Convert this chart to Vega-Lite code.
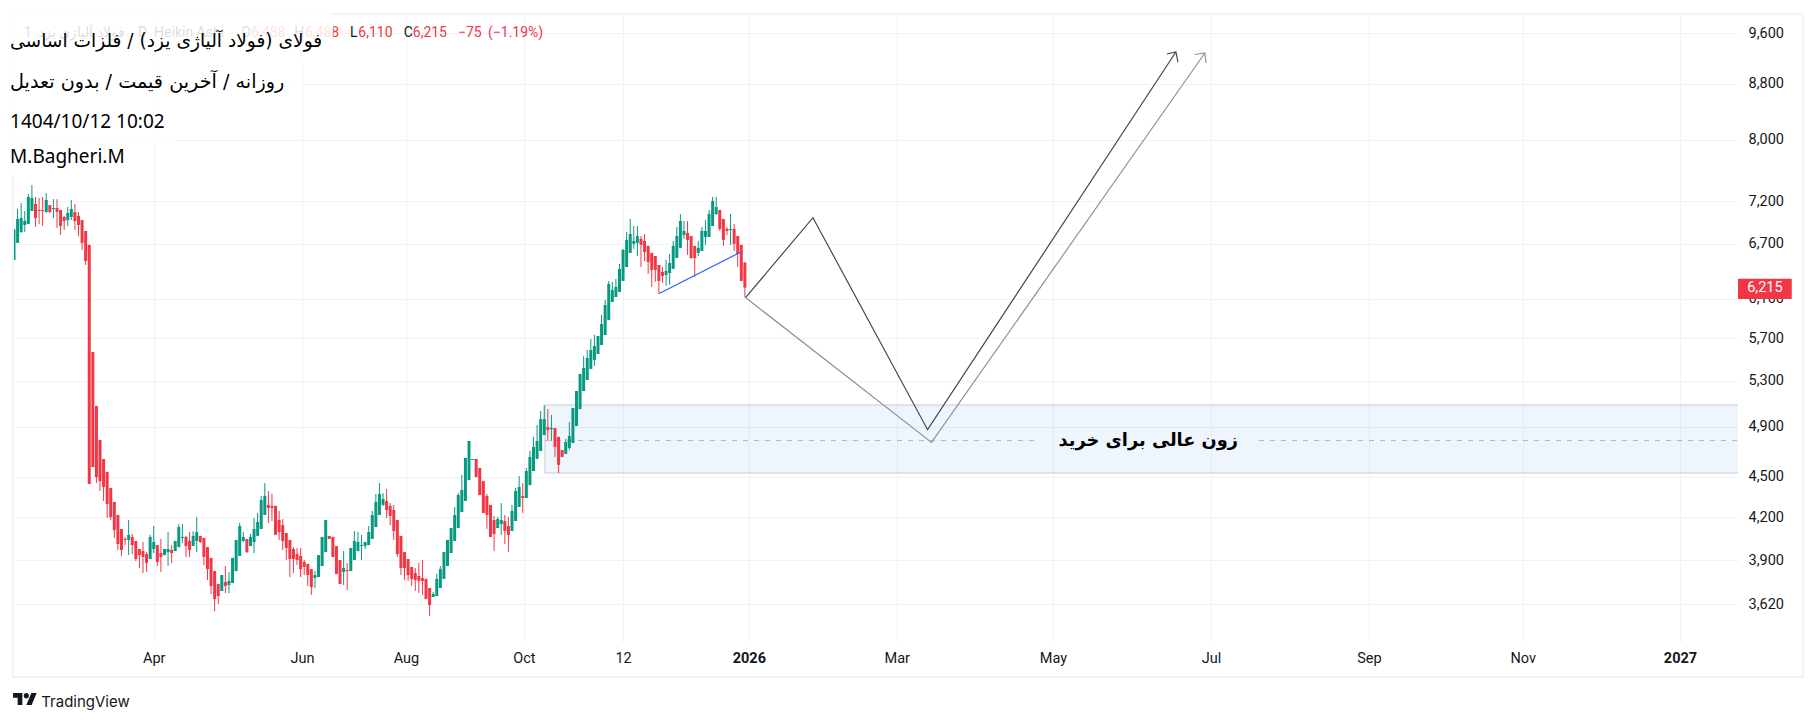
{
  "$schema": "https://vega.github.io/schema/vega-lite/v6.json",
  "width": 1725,
  "height": 628,
  "autosize": "none",
  "padding": {"left": 13, "top": 14, "right": 78, "bottom": 79},
  "background": "white",
  "view": {"stroke": null},
  "config": {"font": "Noto Sans"},
  "datasets": {
    "candles": [
      {"i":0,"o":6515,"h":6866,"l":6515,"c":6866},{"i":1,"o":6708,"h":7108,"l":6708,"c":6988},{"i":2,"o":6835,"h":7181,"l":6823,"c":7000},{"i":3,"o":6917,"h":7084,"l":6835,"c":6964},{"i":4,"o":6929,"h":7292,"l":6929,"c":7255},
      {"i":5,"o":7084,"h":7405,"l":7084,"c":7243},{"i":6,"o":7169,"h":7255,"l":6893,"c":7000},{"i":7,"o":7096,"h":7243,"l":6929,"c":7084},{"i":8,"o":7096,"h":7255,"l":6905,"c":7084},{"i":9,"o":7072,"h":7304,"l":7060,"c":7218},
      {"i":10,"o":7157,"h":7157,"l":7060,"c":7072},{"i":11,"o":7108,"h":7230,"l":7000,"c":7120},{"i":12,"o":7120,"h":7230,"l":6882,"c":7072},{"i":13,"o":7096,"h":7096,"l":6800,"c":6905},{"i":14,"o":7012,"h":7024,"l":6858,"c":6964},
      {"i":15,"o":6976,"h":7132,"l":6905,"c":7060},{"i":16,"o":7012,"h":7218,"l":6976,"c":7108},{"i":17,"o":7072,"h":7169,"l":6858,"c":6964},{"i":18,"o":7024,"h":7072,"l":6788,"c":6917},{"i":19,"o":6976,"h":6976,"l":6628,"c":6708},
      {"i":20,"o":6846,"h":6846,"l":6460,"c":6504},{"i":21,"o":6685,"h":6685,"l":4444,"c":4444},{"i":22,"o":5568,"h":5568,"l":4575,"c":4575},{"i":23,"o":5078,"h":5078,"l":4451,"c":4497},{"i":24,"o":4791,"h":4791,"l":4391,"c":4466},
      {"i":25,"o":4638,"h":4638,"l":4317,"c":4421},{"i":26,"o":4537,"h":4537,"l":4193,"c":4295},{"i":27,"o":4414,"h":4414,"l":4179,"c":4200},{"i":28,"o":4310,"h":4310,"l":4053,"c":4108},{"i":29,"o":4215,"h":4215,"l":3970,"c":4011},
      {"i":30,"o":4115,"h":4115,"l":3930,"c":3970},{"i":31,"o":4046,"h":4060,"l":4004,"c":4039},{"i":32,"o":4039,"h":4179,"l":3936,"c":4074},{"i":33,"o":4060,"h":4080,"l":3943,"c":4004},{"i":34,"o":4032,"h":4032,"l":3896,"c":3910},
      {"i":35,"o":3977,"h":3977,"l":3850,"c":3936},{"i":36,"o":3963,"h":4025,"l":3817,"c":3923},{"i":37,"o":3943,"h":3956,"l":3824,"c":3883},{"i":38,"o":3910,"h":4074,"l":3910,"c":4060},{"i":39,"o":3977,"h":4136,"l":3950,"c":4025},
      {"i":40,"o":4004,"h":4004,"l":3863,"c":3890},{"i":41,"o":3950,"h":4046,"l":3824,"c":3923},{"i":42,"o":3936,"h":3977,"l":3936,"c":3977},{"i":43,"o":3956,"h":4094,"l":3863,"c":3977},{"i":44,"o":3970,"h":4004,"l":3883,"c":3950},
      {"i":45,"o":3963,"h":4032,"l":3963,"c":4032},{"i":46,"o":3990,"h":4150,"l":3990,"c":4129},{"i":47,"o":4053,"h":4150,"l":4018,"c":4060},{"i":48,"o":4060,"h":4067,"l":3923,"c":3997},{"i":49,"o":4032,"h":4094,"l":3923,"c":3970},
      {"i":50,"o":3997,"h":4101,"l":3997,"c":4067},{"i":51,"o":4032,"h":4200,"l":3956,"c":4094},{"i":52,"o":4067,"h":4067,"l":4018,"c":4025},{"i":53,"o":4053,"h":4053,"l":3870,"c":3923},{"i":54,"o":3990,"h":3990,"l":3772,"c":3843},
      {"i":55,"o":3917,"h":3917,"l":3683,"c":3734},{"i":56,"o":3830,"h":3830,"l":3577,"c":3651},{"i":57,"o":3747,"h":3747,"l":3620,"c":3670},{"i":58,"o":3702,"h":3804,"l":3702,"c":3804},{"i":59,"o":3759,"h":3863,"l":3689,"c":3734},
      {"i":60,"o":3740,"h":3824,"l":3689,"c":3766},{"i":61,"o":3753,"h":3917,"l":3753,"c":3917},{"i":62,"o":3830,"h":4039,"l":3830,"c":4039},{"i":63,"o":3930,"h":4158,"l":3930,"c":4136},{"i":64,"o":4032,"h":4094,"l":4025,"c":4060},
      {"i":65,"o":4046,"h":4046,"l":3950,"c":3956},{"i":66,"o":3997,"h":4080,"l":3997,"c":4060},{"i":67,"o":4025,"h":4193,"l":3950,"c":4115},{"i":68,"o":4067,"h":4229,"l":4067,"c":4165},{"i":69,"o":4115,"h":4354,"l":4115,"c":4324},
      {"i":70,"o":4215,"h":4451,"l":4215,"c":4354},{"i":71,"o":4288,"h":4391,"l":4158,"c":4266},{"i":72,"o":4281,"h":4369,"l":4172,"c":4266},{"i":73,"o":4281,"h":4281,"l":4074,"c":4074},{"i":74,"o":4179,"h":4244,"l":4039,"c":4094},
      {"i":75,"o":4143,"h":4186,"l":3970,"c":4032},{"i":76,"o":4087,"h":4087,"l":3903,"c":3984},{"i":77,"o":4039,"h":4039,"l":3791,"c":3910},{"i":78,"o":3977,"h":3990,"l":3817,"c":3910},{"i":79,"o":3943,"h":3984,"l":3870,"c":3903},
      {"i":80,"o":3930,"h":3984,"l":3791,"c":3843},{"i":81,"o":3890,"h":3903,"l":3804,"c":3857},{"i":82,"o":3877,"h":3877,"l":3734,"c":3804},{"i":83,"o":3843,"h":3843,"l":3677,"c":3727},{"i":84,"o":3785,"h":3830,"l":3721,"c":3804},
      {"i":85,"o":3791,"h":3936,"l":3791,"c":3936},{"i":86,"o":3863,"h":4060,"l":3863,"c":4060},{"i":87,"o":3956,"h":4179,"l":3956,"c":4179},{"i":88,"o":4067,"h":4067,"l":4046,"c":4046},{"i":89,"o":4060,"h":4060,"l":3923,"c":3923},
      {"i":90,"o":3997,"h":3997,"l":3811,"c":3811},{"i":91,"o":3903,"h":3903,"l":3747,"c":3747},{"i":92,"o":3824,"h":3963,"l":3740,"c":3850},{"i":93,"o":3837,"h":3883,"l":3708,"c":3830},{"i":94,"o":3830,"h":3984,"l":3830,"c":3984},
      {"i":95,"o":3903,"h":4101,"l":3903,"c":4032},{"i":96,"o":3963,"h":4094,"l":3963,"c":4025},{"i":97,"o":3997,"h":4074,"l":3903,"c":4004},{"i":98,"o":3997,"h":4025,"l":3977,"c":4025},{"i":99,"o":4004,"h":4136,"l":4004,"c":4094},
      {"i":100,"o":4046,"h":4244,"l":4046,"c":4215},{"i":101,"o":4129,"h":4369,"l":4129,"c":4310},{"i":102,"o":4215,"h":4451,"l":4215,"c":4369},{"i":103,"o":4288,"h":4376,"l":4281,"c":4332},{"i":104,"o":4317,"h":4406,"l":4193,"c":4251},
      {"i":105,"o":4281,"h":4302,"l":4143,"c":4208},{"i":106,"o":4251,"h":4288,"l":4039,"c":4101},{"i":107,"o":4179,"h":4179,"l":3923,"c":3943},{"i":108,"o":4067,"h":4067,"l":3804,"c":3850},{"i":109,"o":3956,"h":3956,"l":3772,"c":3850},
      {"i":110,"o":3910,"h":3910,"l":3766,"c":3804},{"i":111,"o":3857,"h":3857,"l":3734,"c":3779},{"i":112,"o":3817,"h":3850,"l":3702,"c":3772},{"i":113,"o":3798,"h":3883,"l":3689,"c":3766},{"i":114,"o":3785,"h":3903,"l":3677,"c":3766},
      {"i":115,"o":3779,"h":3779,"l":3651,"c":3651},{"i":116,"o":3721,"h":3721,"l":3546,"c":3614},{"i":117,"o":3664,"h":3696,"l":3664,"c":3683},{"i":118,"o":3670,"h":3811,"l":3670,"c":3779},{"i":119,"o":3721,"h":3863,"l":3721,"c":3843},
      {"i":120,"o":3779,"h":3956,"l":3779,"c":3956},{"i":121,"o":3863,"h":4039,"l":3863,"c":4039},{"i":122,"o":3950,"h":4122,"l":3950,"c":4122},{"i":123,"o":4032,"h":4273,"l":4032,"c":4215},{"i":124,"o":4122,"h":4376,"l":4122,"c":4361},
      {"i":125,"o":4237,"h":4513,"l":4237,"c":4399},{"i":126,"o":4317,"h":4646,"l":4317,"c":4646},{"i":127,"o":4474,"h":4783,"l":4474,"c":4783},{"i":128,"o":4630,"h":4638,"l":4630,"c":4638},{"i":129,"o":4638,"h":4638,"l":4497,"c":4497},
      {"i":130,"o":4568,"h":4568,"l":4361,"c":4361},{"i":131,"o":4466,"h":4466,"l":4229,"c":4229},{"i":132,"o":4354,"h":4369,"l":4115,"c":4215},{"i":133,"o":4288,"h":4288,"l":4060,"c":4060},{"i":134,"o":4179,"h":4208,"l":3963,"c":4080},
      {"i":135,"o":4122,"h":4200,"l":4122,"c":4186},{"i":136,"o":4150,"h":4302,"l":4074,"c":4179},{"i":137,"o":4172,"h":4215,"l":4011,"c":4101},{"i":138,"o":4136,"h":4200,"l":3956,"c":4074},{"i":139,"o":4101,"h":4288,"l":4101,"c":4244},
      {"i":140,"o":4172,"h":4414,"l":4172,"c":4391},{"i":141,"o":4273,"h":4505,"l":4273,"c":4421},{"i":142,"o":4354,"h":4451,"l":4229,"c":4339},{"i":143,"o":4339,"h":4568,"l":4339,"c":4544},{"i":144,"o":4436,"h":4702,"l":4436,"c":4654},
      {"i":145,"o":4544,"h":4816,"l":4544,"c":4734},{"i":146,"o":4638,"h":4915,"l":4638,"c":4783},{"i":147,"o":4702,"h":5034,"l":4702,"c":4965},{"i":148,"o":4832,"h":5086,"l":4832,"c":4965},{"i":149,"o":4898,"h":5051,"l":4791,"c":4873},
      {"i":150,"o":4881,"h":5000,"l":4783,"c":4890},{"i":151,"o":4890,"h":4890,"l":4654,"c":4734},{"i":152,"o":4816,"h":4816,"l":4528,"c":4591},{"i":153,"o":4710,"h":4710,"l":4654,"c":4654},{"i":154,"o":4678,"h":4800,"l":4678,"c":4775},
      {"i":155,"o":4726,"h":4940,"l":4710,"c":4824},{"i":156,"o":4767,"h":5060,"l":4767,"c":5060},{"i":157,"o":4907,"h":5209,"l":4907,"c":5209},{"i":158,"o":5051,"h":5363,"l":5051,"c":5363},{"i":159,"o":5209,"h":5530,"l":5209,"c":5418},
      {"i":160,"o":5308,"h":5587,"l":5308,"c":5511},{"i":161,"o":5409,"h":5693,"l":5409,"c":5587},{"i":162,"o":5492,"h":5733,"l":5436,"c":5625},{"i":163,"o":5549,"h":5722,"l":5549,"c":5722},{"i":164,"o":5635,"h":5931,"l":5635,"c":5841},
      {"i":165,"o":5732,"h":6085,"l":5732,"c":6033},{"i":166,"o":5881,"h":6286,"l":5881,"c":6254},{"i":167,"o":6064,"h":6276,"l":6064,"c":6190},{"i":168,"o":6116,"h":6308,"l":6116,"c":6222},{"i":169,"o":6169,"h":6471,"l":6169,"c":6416},
      {"i":170,"o":6286,"h":6640,"l":6286,"c":6628},{"i":171,"o":6438,"h":6835,"l":6438,"c":6742},{"i":172,"o":6594,"h":6988,"l":6594,"c":6811},{"i":173,"o":6697,"h":6905,"l":6640,"c":6731},{"i":174,"o":6708,"h":6905,"l":6560,"c":6788},
      {"i":175,"o":6754,"h":6788,"l":6438,"c":6685},{"i":176,"o":6731,"h":6811,"l":6504,"c":6605},{"i":177,"o":6674,"h":6674,"l":6361,"c":6493},{"i":178,"o":6594,"h":6594,"l":6222,"c":6405},{"i":179,"o":6560,"h":6560,"l":6276,"c":6405},
      {"i":180,"o":6460,"h":6460,"l":6148,"c":6286},{"i":181,"o":6383,"h":6438,"l":6265,"c":6340},{"i":182,"o":6350,"h":6515,"l":6233,"c":6394},{"i":183,"o":6372,"h":6583,"l":6244,"c":6482},{"i":184,"o":6416,"h":6731,"l":6416,"c":6674},
      {"i":185,"o":6538,"h":6893,"l":6538,"c":6788},{"i":186,"o":6651,"h":7048,"l":6651,"c":6964},{"i":187,"o":6800,"h":6964,"l":6754,"c":6846},{"i":188,"o":6823,"h":6964,"l":6571,"c":6742},{"i":189,"o":6788,"h":6788,"l":6527,"c":6538},
      {"i":190,"o":6674,"h":6674,"l":6329,"c":6538},{"i":191,"o":6594,"h":6731,"l":6560,"c":6651},{"i":192,"o":6617,"h":6893,"l":6617,"c":6846},{"i":193,"o":6777,"h":6976,"l":6685,"c":6846},{"i":194,"o":6777,"h":7096,"l":6777,"c":7048},
      {"i":195,"o":6905,"h":7255,"l":6905,"c":7206},{"i":196,"o":7048,"h":7255,"l":7036,"c":7132},{"i":197,"o":7096,"h":7096,"l":6846,"c":6870},{"i":198,"o":6988,"h":6988,"l":6674,"c":6742},{"i":199,"o":6870,"h":6893,"l":6800,"c":6846},
      {"i":200,"o":6858,"h":7048,"l":6685,"c":6870},{"i":201,"o":6870,"h":6929,"l":6617,"c":6697},{"i":202,"o":6788,"h":6788,"l":6438,"c":6583},{"i":203,"o":6685,"h":6685,"l":6286,"c":6286},{"i":204,"o":6488,"h":6488,"l":6110,"c":6215}
    ],
    "paths": [
      {"who":"blue","seg":"blue","k":1,"i":180.1,"p":6152},{"who":"blue","seg":"blue","k":2,"i":202.9,"p":6605},
      {"who":"dark","seg":"dark","k":1,"i":204.2,"p":6110},{"who":"dark","seg":"dark","k":2,"i":223,"p":7003},{"who":"dark","seg":"dark","k":3,"i":255,"p":4876},{"who":"dark","seg":"dark","k":4,"i":324.3,"p":9294},
      {"who":"dark","seg":"darkhead","k":1,"i":321.8,"p":9262},{"who":"dark","seg":"darkhead","k":2,"i":324.3,"p":9294},{"who":"dark","seg":"darkhead","k":3,"i":324.9,"p":9136},
      {"who":"grey","seg":"grey","k":1,"i":204.2,"p":6110},{"who":"grey","seg":"grey","k":2,"i":256.1,"p":4771},{"who":"grey","seg":"grey","k":3,"i":332.4,"p":9278},
      {"who":"grey","seg":"greyhead","k":1,"i":329.6,"p":9254},{"who":"grey","seg":"greyhead","k":2,"i":332.4,"p":9278},{"who":"grey","seg":"greyhead","k":3,"i":332.7,"p":9120}
    ],
    "masks": [
      {"a":-1.4,"b":89,"top":10157,"bottom":9136},
      {"a":-1.4,"b":80.4,"top":9136,"bottom":8532},
      {"a":-1.4,"b":45.2,"top":8532,"bottom":7969},
      {"a":-1.4,"b":33.2,"top":7969,"bottom":7520}
    ]
  },
  "encoding": {
    "x": {
      "type": "quantitative",
      "scale": {"domain": [-0.28, 481.2], "nice": false, "zero": false, "padding": 0},
      "axis": {
        "values": [39, 80.4, 109.4, 142.3, 170, 205.1, 246.4, 290, 334.1, 378.2, 421.1, 465],
        "labelExpr": "{'39':'Apr','80.4':'Jun','109.4':'Aug','142.3':'Oct','170':'12','205.1':'2026','246.4':'Mar','290':'May','334.1':'Jul','378.2':'Sep','421.1':'Nov','465':'2027'}[datum.value]",
        "title": null, "grid": true, "gridColor": "#f1f2f5", "gridWidth": 1, "domain": false, "ticks": false,
        "labelFontSize": 14.5, "labelColor": "#131722", "labelPadding": 9, "labelFont": "Roboto", "labelOverlap": false, "labelFlush": false,
        "labelFontWeight": {"condition": {"test": "datum.value == 205.1 || datum.value == 465", "value": "bold"}, "value": "normal"}
      }
    },
    "y": {
      "type": "quantitative",
      "scale": {"type": "log", "domain": [3393, 9917], "nice": false, "zero": false},
      "axis": {
        "orient": "right", "values": [3620, 3900, 4200, 4500, 4900, 5300, 5700, 6100, 6700, 7200, 8000, 8800, 9600],
        "format": ",d", "title": null, "grid": true, "gridColor": "#f1f2f5", "gridWidth": 1, "domain": false, "ticks": false,
        "labelFontSize": 14.5, "labelColor": "#131722", "labelPadding": 10, "labelFont": "Roboto", "labelOverlap": false
      }
    }
  },
  "layer": [
    {
      "data": {"values": [{"a": 148.2, "b": 490, "top": 5086, "bottom": 4528}]},
      "mark": {"type": "rect", "fill": "#2f7fe6", "fillOpacity": 0.08, "stroke": "#c5cad6", "strokeWidth": 1, "clip": true},
      "encoding": {"x": {"field": "a"}, "x2": {"field": "b"}, "y": {"field": "top"}, "y2": {"field": "bottom"}}
    },
    {
      "data": {"values": [{"a": 148.2, "b": 286.2, "p": 4786}, {"a": 347.5, "b": 481.2, "p": 4786}]},
      "mark": {"type": "rule", "stroke": "#b2b5be", "strokeWidth": 1, "strokeDash": [5, 6]},
      "encoding": {"x": {"field": "a"}, "x2": {"field": "b"}, "y": {"field": "p"}}
    },
    {
      "data": {"name": "candles"},
      "mark": {"type": "rule", "strokeWidth": 1},
      "encoding": {
        "x": {"field": "i"}, "y": {"field": "l"}, "y2": {"field": "h"},
        "color": {"condition": {"test": "datum.c >= datum.o", "value": "#089981"}, "value": "#f23645"}
      }
    },
    {
      "data": {"name": "candles"},
      "mark": {"type": "bar", "size": 3, "orient": "vertical"},
      "encoding": {
        "x": {"field": "i"}, "y": {"field": "o"}, "y2": {"field": "c"},
        "color": {"condition": {"test": "datum.c >= datum.o", "value": "#089981"}, "value": "#f23645"}
      }
    },
    {
      "data": {"name": "paths"},
      "mark": {"type": "line", "strokeWidth": 1.2, "interpolate": "linear"},
      "encoding": {
        "x": {"field": "i"}, "y": {"field": "p"},
        "detail": {"field": "seg"},
        "order": {"field": "k"},
        "color": {"field": "who", "type": "nominal", "legend": null, "scale": {"domain": ["blue", "dark", "grey"], "range": ["#2962ff", "#434651", "#8f929c"]}}
      }
    },
    {
      "data": {"values": [{"i": 316.6, "p": 4786, "t": "زون عالی برای خرید"}]},
      "mark": {"type": "text", "font": "DejaVu Sans", "fontWeight": "bold", "fontSize": 17.8, "color": "#000000", "align": "center", "baseline": "middle"},
      "encoding": {"x": {"field": "i"}, "y": {"field": "p"}, "text": {"field": "t"}}
    },
    {
      "data": {"values": [{"a": -0.28, "b": 499.3, "top": 9917, "bottom": 3196}]},
      "mark": {"type": "rect", "fillOpacity": 0, "stroke": "#f0f3fa", "strokeWidth": 2},
      "encoding": {"x": {"field": "a"}, "x2": {"field": "b"}, "y": {"field": "top"}, "y2": {"field": "bottom"}}
    },
    {
      "data": {"values": [
        {"i": 2.8, "p": 9600, "t": "1"},
        {"i": 6.7, "p": 9600, "t": "فولاد آلیاژی یزد"},
        {"i": 34.6, "p": 9600, "t": "D"},
        {"i": 39.1, "p": 9600, "t": "Heikin Ashi"},
        {"i": 63.4, "p": 9600, "t": "O"},
        {"i": 78.2, "p": 9600, "t": "H"},
        {"i": 93.8, "p": 9600, "t": "L"},
        {"i": 108.8, "p": 9600, "t": "C"}
      ]},
      "mark": {"type": "text", "font": "Roboto", "fontSize": 14, "color": "#131722", "align": "left", "baseline": "middle"},
      "encoding": {"x": {"field": "i"}, "y": {"field": "p"}, "text": {"field": "t"}}
    },
    {
      "data": {"values": [
        {"i": 66.2, "p": 9600, "t": "6,488"},
        {"i": 81.2, "p": 9600, "t": "6,488"},
        {"i": 96.1, "p": 9600, "t": "6,110"},
        {"i": 111.3, "p": 9600, "t": "6,215"},
        {"i": 123.9, "p": 9600, "t": "−75"},
        {"i": 132.3, "p": 9600, "t": "(−1.19%)"}
      ]},
      "mark": {"type": "text", "font": "Roboto", "fontSize": 14, "color": "#f23645", "align": "left", "baseline": "middle"},
      "encoding": {"x": {"field": "i"}, "y": {"field": "p"}, "text": {"field": "t"}}
    },
    {
      "data": {"name": "masks"},
      "mark": {"type": "rect", "fill": "white", "fillOpacity": 0.85},
      "encoding": {"x": {"field": "a"}, "x2": {"field": "b"}, "y": {"field": "top"}, "y2": {"field": "bottom"}}
    },
    {
      "data": {"values": [{"i": -1.1, "p": 9470, "t": "فولای (فولاد آلیاژی یزد) / فلزات اساسی"}]},
      "mark": {"type": "text", "font": "DejaVu Sans", "fontSize": 18.6, "color": "#000000", "align": "left", "baseline": "middle"},
      "encoding": {"x": {"field": "i"}, "y": {"field": "p"}, "text": {"field": "t"}}
    },
    {
      "data": {"values": [{"i": -1.1, "p": 8829, "t": "روزانه / آخرین قیمت / بدون تعدیل"}]},
      "mark": {"type": "text", "font": "DejaVu Sans", "fontSize": 19.2, "color": "#000000", "align": "left", "baseline": "middle"},
      "encoding": {"x": {"field": "i"}, "y": {"field": "p"}, "text": {"field": "t"}}
    },
    {
      "data": {"values": [
        {"i": -1.1, "p": 8247, "t": "1404/10/12 10:02"},
        {"i": -1.1, "p": 7767, "t": "M.Bagheri.M"}
      ]},
      "mark": {"type": "text", "fontSize": 19, "color": "#000000", "align": "left", "baseline": "middle"},
      "encoding": {"x": {"field": "i"}, "y": {"field": "p"}, "text": {"field": "t"}}
    },
    {
      "data": {"values": [{"a": 481.2, "b": 496.2, "top": 6309, "bottom": 6095}]},
      "mark": {"type": "rect", "fill": "#f23645", "cornerRadius": 1},
      "encoding": {"x": {"field": "a"}, "x2": {"field": "b"}, "y": {"field": "top"}, "y2": {"field": "bottom"}}
    },
    {
      "data": {"values": [{"i": 488.7, "p": 6215, "t": "6,215"}]},
      "mark": {"type": "text", "font": "Roboto", "fontSize": 14.5, "color": "white", "align": "center", "baseline": "middle"},
      "encoding": {"x": {"field": "i"}, "y": {"field": "p"}, "text": {"field": "t"}}
    },
    {
      "data": {"values": [{"i": 3.07, "p": 3078}]},
      "mark": {
        "type": "point", "filled": true, "size": 576, "opacity": 1, "color": "#131722",
        "shape": "M-.222 .5L-.611 .5L-.611 -.111L-1 -.111L-1 -.5L-.222 -.5ZM.556 .5L.111 .5L.528 -.5L.972 -.5ZM-.111 -.278a.222 .222 0 1 0 .444 0a.222 .222 0 1 0 -.444 0Z"
      },
      "encoding": {"x": {"field": "i"}, "y": {"field": "p"}}
    },
    {
      "data": {"values": [{"i": 7.6, "p": 3060, "t": "TradingView"}]},
      "mark": {"type": "text", "font": "Inter", "fontSize": 15, "color": "#131722", "align": "left", "baseline": "middle"},
      "encoding": {"x": {"field": "i"}, "y": {"field": "p"}, "text": {"field": "t"}}
    }
  ]
}
